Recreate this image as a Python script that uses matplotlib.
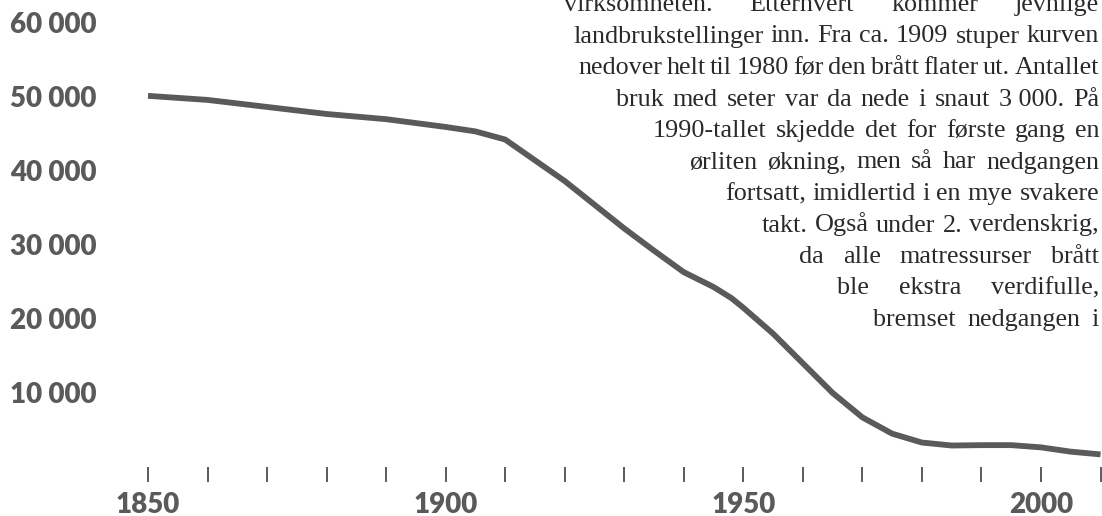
import matplotlib
matplotlib.use("Agg")
import matplotlib.pyplot as plt

# number of farms with seter
years = [1850, 1860, 1870, 1880, 1890, 1900, 1905, 1910, 1915, 1920, 1925,
         1930, 1935, 1940, 1942, 1945, 1948, 1950, 1952, 1955, 1960, 1965,
         1970, 1975, 1980, 1985, 1990, 1995, 2000, 2005, 2010]
farms = [50100, 49550, 48600, 47650, 46950, 45900, 45300, 44200, 41400,
         38600, 35400, 32200, 29200, 26300, 25500, 24300, 22800, 21500,
         20100, 18000, 14000, 10000, 6700, 4500, 3300, 2900, 2950, 2950,
         2650, 2070, 1700]

y_ticks = [10000, 20000, 30000, 40000, 50000, 60000]
y_labels = ["10 000", "20 000", "30 000", "40 000", "50 000", "60 000"]
x_ticks = list(range(1850, 2011, 10))
x_labels = ["1850", "1900", "1950", "2000"]

text_lines = [
    "virksomheten. Etterhvert kommer jevnlige",
    "landbrukstellinger inn. Fra ca. 1909 stuper kurven",
    "nedover helt til 1980 før den brått flater ut. Antallet",
    "bruk med seter var da nede i snaut 3\u00a0000. På",
    "1990-tallet skjedde det for første gang en",
    "ørliten økning, men så har nedgangen",
    "fortsatt, imidlertid i en mye svakere",
    "takt. Også under 2. verdenskrig,",
    "da alle matressurser brått",
    "ble ekstra verdifulle,",
    "bremset nedgangen i",
]
line_left = [564, 573, 578, 616, 653, 689, 725, 762, 799, 837, 873]

W, H = 1102, 516
gray = "#5a5a5c"
fig = plt.figure(figsize=(W / 100, H / 100), dpi=100)
ax = fig.add_axes([148 / W, 49 / H, (W - 148) / W, (493.5 - 49) / H])

ax.plot(years, farms, color=gray, lw=4.2, solid_joinstyle="round",
        solid_capstyle="butt", clip_on=False)
ax.set_xlim(1850, 2010.25)
ax.set_ylim(0, 60000)

for s in ax.spines.values():
    s.set_visible(False)

ax.set_yticks(y_ticks)
ax.set_yticklabels(y_labels)
ax.tick_params(axis="y", length=0, pad=99.4, labelsize=20, labelcolor=gray)
for lab in ax.get_yticklabels():
    lab.set_horizontalalignment("left")
    lab.set_fontfamily("Lato")
    lab.set_fontweight("heavy")

ax.set_xticks(x_ticks)
ax.set_xticklabels([str(y) if str(y) in x_labels else "" for y in x_ticks])
ax.tick_params(axis="x", direction="out", length=11, width=1.4, color=gray,
               pad=7, labelsize=20, labelcolor=gray)
for lab in ax.get_xticklabels():
    lab.set_fontfamily("Lato")
    lab.set_fontweight("heavy")

# justified paragraph on the right
renderer = fig.canvas.get_renderer()
probe = fig.text(0, 0, text_lines[1], fontsize=16, family="Liberation Serif")
fs = 16 * 522 / probe.get_window_extent(renderer).width
probe.remove()

right = 1099
base0 = 11
step = 31.5
for i, line in enumerate(text_lines):
    words = line.split(" ")
    base = base0 + i * step
    texts = []
    for w in words:
        t = fig.text(0, 1 - base / H, w, fontsize=fs, family="Liberation Serif",
                     color="#2a2a2a", va="baseline", ha="left")
        texts.append(t)
    widths = [t.get_window_extent(renderer).width for t in texts]
    gap = (right - line_left[i] - sum(widths)) / max(len(words) - 1, 1)
    x = line_left[i]
    for t, w in zip(texts, widths):
        t.set_x(x / W)
        x += w + gap

fig.savefig("out.png", dpi=100)
